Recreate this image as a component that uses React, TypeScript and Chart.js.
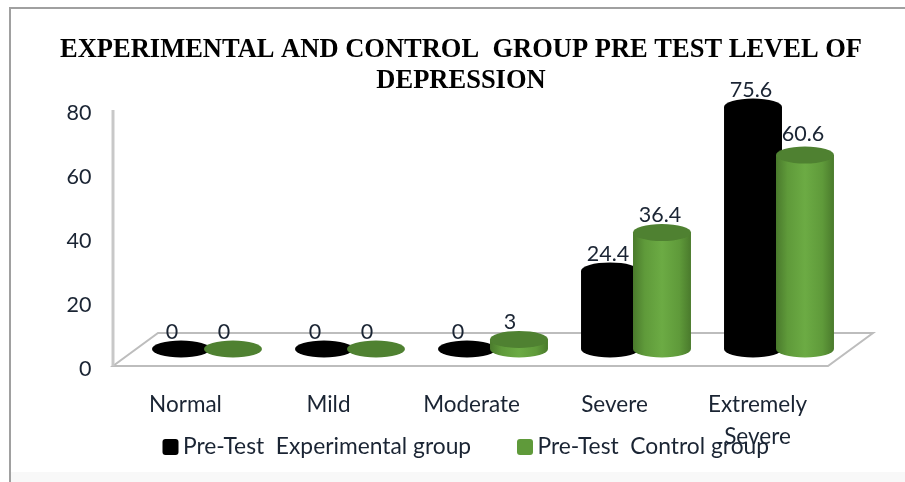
import React, { useEffect, useRef } from "react";
import { Chart, registerables } from "chart.js";

Chart.register(...registerables);

const categories = ["Normal", "Mild", "Moderate", "Severe", ["Extremely", "Severe"]];
const experimental = [0, 0, 0, 24.4, 75.6];
const control = [0, 0, 3, 36.4, 60.6];
const yTicks = [0, 20, 40, 60, 80];
const titleLines = ["EXPERIMENTAL AND CONTROL  GROUP PRE TEST LEVEL OF", "DEPRESSION"];
const seriesNames = ["Pre-Test  Experimental group", "Pre-Test  Control group"];
const sansFont = "Lato, 'Noto Sans', sans-serif";
const textColour = "#1a2433";

function cylinder(ctx: CanvasRenderingContext2D, x: number, top: number, base: number, w: number, green: boolean) {
  const rx = w / 2;
  const ry = 8.5;
  const left = x - rx;
  const right = x + rx;
  ctx.save();
  if (base - top > 0.5) {
    let side: CanvasGradient | string = "#000000";
    if (green) {
      const g = ctx.createLinearGradient(left, 0, right, 0);
      g.addColorStop(0, "#4a7a2c");
      g.addColorStop(0.2, "#5f9a3a");
      g.addColorStop(0.5, "#6cab44");
      g.addColorStop(0.8, "#5f9a3a");
      g.addColorStop(1, "#4a7a2c");
      side = g;
    }
    ctx.fillStyle = side;
    ctx.beginPath();
    ctx.moveTo(left, top);
    ctx.lineTo(left, base);
    ctx.ellipse(x, base, rx, ry, 0, Math.PI, 0, true);
    ctx.lineTo(right, top);
    ctx.closePath();
    ctx.fill();
  }
  ctx.fillStyle = green ? "#4f8131" : "#000000";
  ctx.beginPath();
  ctx.ellipse(x, top, rx, ry, 0, 0, Math.PI * 2);
  ctx.fill();
  ctx.restore();
}

const decorPlugin = {
  id: "decor",
  afterLayout(chart: any) {
    chart.scales.y.left = 0;
    chart.titleBlock.left = 20;
    chart.titleBlock.right = 902;
  },
  beforeDraw(chart: any) {
    const { ctx } = chart;
    ctx.save();
    ctx.fillStyle = "#f8f8f8";
    ctx.fillRect(11, 472, 894, 10);
    ctx.strokeStyle = "#a0a0a0";
    ctx.lineWidth = 2;
    ctx.beginPath();
    ctx.moveTo(10, 482);
    ctx.lineTo(10, 8);
    ctx.lineTo(905, 8);
    ctx.stroke();
    ctx.restore();
  },
  beforeDatasetsDraw(chart: any) {
    const { ctx } = chart;
    ctx.save();
    ctx.strokeStyle = "#bdbdbd";
    ctx.lineWidth = 2;
    ctx.beginPath();
    ctx.moveTo(158, 333);
    ctx.lineTo(873, 333);
    ctx.lineTo(828, 366);
    ctx.lineTo(113, 366);
    ctx.closePath();
    ctx.stroke();
    ctx.strokeStyle = "#c8c8c8";
    ctx.lineWidth = 3;
    ctx.beginPath();
    ctx.moveTo(113, 110);
    ctx.lineTo(113, 366);
    ctx.stroke();
    ctx.restore();
  },
  beforeDatasetDraw() {
    return false;
  },
  afterDatasetsDraw(chart: any) {
    const { ctx } = chart;
    const metas = [chart.getDatasetMeta(0), chart.getDatasetMeta(1)];
    metas.forEach((meta: any, d: number) => {
      meta.data.forEach((bar: any) => {
        cylinder(ctx, bar.x, bar.y, bar.base, bar.width, d === 1);
      });
    });
    ctx.save();
    ctx.fillStyle = textColour;
    ctx.font = `21.5px ${sansFont}`;
    ctx.textAlign = "center";
    ctx.textBaseline = "middle";
    metas.forEach((meta: any, d: number) => {
      meta.data.forEach((bar: any, i: number) => {
        const v = chart.data.datasets[d].data[i];
        const lift = d === 1 && i === 4 ? 21 : 17;
        ctx.fillText(String(v), bar.x + (v < 10 ? -9 : -2), bar.y - lift);
      });
    });
    const swatchX = [162.5, 517];
    const colours = ["#000000", "#5f9a3a"];
    ctx.font = `22.8px ${sansFont}`;
    ctx.textAlign = "left";
    chart.data.datasets.forEach((ds: any, d: number) => {
      ctx.fillStyle = colours[d];
      ctx.beginPath();
      ctx.roundRect(swatchX[d], 439, 16, 16, 3);
      ctx.fill();
      ctx.fillStyle = textColour;
      ctx.fillText(ds.label, swatchX[d] + 20.5, 447);
    });
    ctx.restore();
  },
};

export default function App() {
  const ref = useRef<HTMLCanvasElement>(null);
  useEffect(() => {
    const chart = new Chart(ref.current as HTMLCanvasElement, {
      type: "bar",
      data: {
        labels: categories as any,
        datasets: [
          { label: seriesNames[0], data: experimental, backgroundColor: "#000000" },
          { label: seriesNames[1], data: control, backgroundColor: "#5f9a3a" },
        ],
      },
      plugins: [decorPlugin as any],
      options: {
        animation: false,
        responsive: false,
        layout: { padding: { left: 72.5, right: 54.5, top: 0, bottom: 0 } },
        datasets: { bar: { categoryPercentage: 0.727, barPercentage: 1.115 } },
        plugins: {
          legend: { display: false },
          tooltip: { enabled: false },
          title: {
            display: true,
            text: titleLines,
            color: "#000000",
            font: { family: "'Liberation Serif', serif", weight: "bold", size: 26.5, lineHeight: 1.17 },
            padding: { top: 35, bottom: -4 },
          },
        },
        scales: {
          x: {
            grid: { display: false, drawTicks: false },
            border: { display: false },
            afterFit: (s: any) => {
              s.height = 133;
            },
            ticks: {
              color: textColour,
              font: { family: sansFont, size: 22.5, lineHeight: 1.42 },
              padding: 40,
              labelOffset: -21.5,
              autoSkip: false,
              maxRotation: 0,
            },
          },
          y: {
            min: 0,
            max: 80,
            grid: { display: false, drawTicks: false },
            border: { display: false },
            afterBuildTicks: (s: any) => {
              s.ticks = yTicks.map((value) => ({ value }));
            },
            afterFit: (s: any) => {
              s.width = 63;
            },
            ticks: {
              color: textColour,
              font: { family: sansFont, size: 21.5 },
              padding: 44,
              labelOffset: 20,
            },
          },
        },
      } as any,
    });
    return () => chart.destroy();
  }, []);
  return (
    <canvas
      ref={ref}
      width={905}
      height={482}
      style={{ position: "absolute", left: 0, top: 0, width: 905, height: 482, background: "#ffffff" }}
    />
  );
}
